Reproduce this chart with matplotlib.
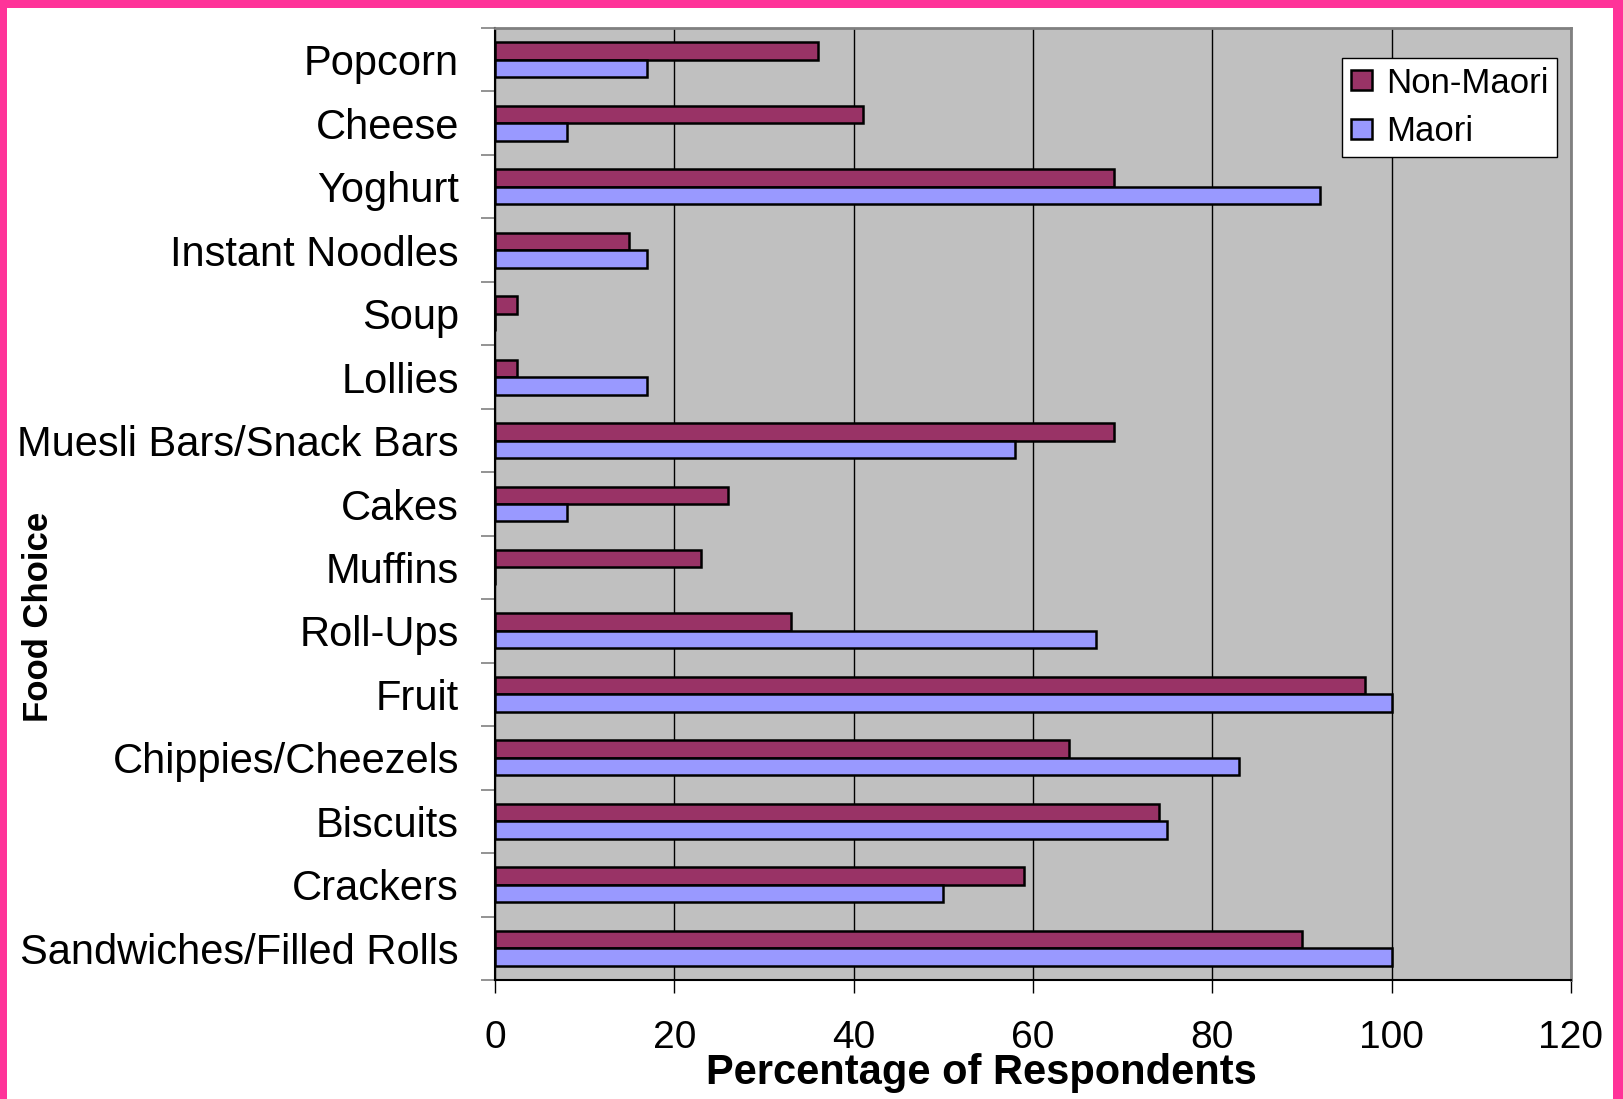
import numpy as np
import matplotlib
matplotlib.use('Agg')
import matplotlib.pyplot as plt
from matplotlib.patches import Rectangle

plt.rcParams['font.family'] = ['Liberation Sans', 'DejaVu Sans']

# top to bottom, as in the chart
foods = ['Popcorn', 'Cheese', 'Yoghurt', 'Instant Noodles', 'Soup', 'Lollies',
         'Muesli Bars/Snack Bars', 'Cakes', 'Muffins', 'Roll-Ups', 'Fruit',
         'Chippies/Cheezels', 'Biscuits', 'Crackers', 'Sandwiches/Filled Rolls']
non_maori = [36, 41, 69, 15, 2.5, 2.5, 69, 26, 23, 33, 97, 64, 74, 59, 90]
maori = [17, 8, 92, 17, 0, 17, 58, 8, 0, 67, 100, 83, 75, 50, 100]
x_ticks = [0, 20, 40, 60, 80, 100, 120]

fig = plt.figure(figsize=(16.24, 10.99), dpi=100)
ax = fig.add_axes([495 / 1624, 1 - 980 / 1099, 1076 / 1624, 952 / 1099])
ax.set_facecolor('#C0C0C0')

y = np.arange(len(foods))
h = 0.275
ax.barh(y - h / 2, non_maori, height=h, color='#993366', edgecolor='black',
        linewidth=1.8, label='Non-Maori', zorder=3)
ax.barh(y + h / 2, maori, height=h, color='#9999FF', edgecolor='black',
        linewidth=1.8, label='Maori', zorder=3)

ax.set_xlim(0, 120)
ax.set_ylim(len(foods) - 0.5, -0.5)
ax.set_xticks(x_ticks)
ax.set_xticklabels([str(v) for v in x_ticks], fontsize=28)
ax.tick_params(axis='x', direction='out', length=9, width=1, color='black', pad=20)
ax.set_yticks(y)
ax.set_yticklabels(foods, fontsize=30)
ax.tick_params(axis='y', which='major', length=0, pad=26)
ax.set_yticks(np.arange(len(foods) + 1) - 0.5, minor=True)
ax.tick_params(axis='y', which='minor', direction='out', length=10, width=1.2, color='#808080')

ax.xaxis.grid(True, color='black', linewidth=1)
ax.set_axisbelow(True)
for side in ['top', 'right']:
    ax.spines[side].set_color('#808080')
    ax.spines[side].set_linewidth(2)
for side in ['left', 'bottom']:
    ax.spines[side].set_color('black')
    ax.spines[side].set_linewidth(1.5)

ax.set_xlabel('Percentage of Respondents', fontsize=30, fontweight='bold')
ax.xaxis.set_label_coords(0.452, -0.077)
ax.xaxis.label.set_verticalalignment('top')
fig.text(39 / 1624, 1 - 617 / 1099, 'Food Choice', fontsize=25, fontweight='bold',
         rotation=90, ha='center', va='center')

leg = ax.legend(loc='upper right', bbox_to_anchor=(1557 / 1624, 1 - 58 / 1099),
                bbox_transform=fig.transFigure, borderaxespad=0, fontsize=25,
                fancybox=False, framealpha=1, edgecolor='black',
                handlelength=0.6, handleheight=0.5, handletextpad=0.4,
                labelspacing=0.45, borderpad=0.25)
leg.get_frame().set_linewidth(1)

# pink frame: top, left and right edges only (bottom is cut off)
pink = '#FF3399'
fig.patches.append(Rectangle((0, 1 - 8 / 1099), 1, 8 / 1099, transform=fig.transFigure,
                             color=pink, lw=0))
fig.patches.append(Rectangle((0, 0), 7 / 1624, 1, transform=fig.transFigure,
                             color=pink, lw=0))
fig.patches.append(Rectangle((1 - 11 / 1624, 0), 11 / 1624, 1, transform=fig.transFigure,
                             color=pink, lw=0))

plt.savefig('out.png', dpi=100)
